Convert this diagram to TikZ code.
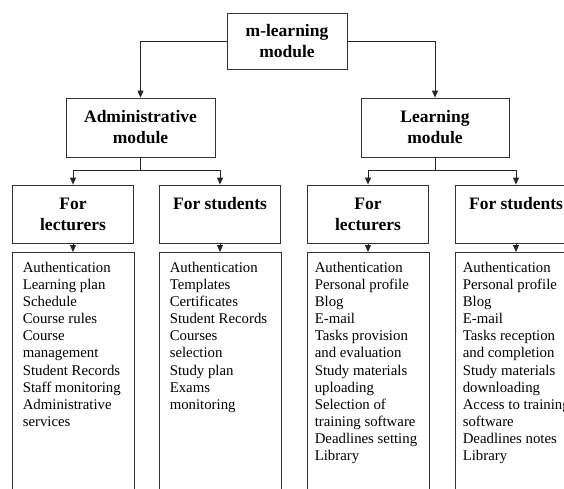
\documentclass[tikz,border=0pt]{standalone}
\usepackage{fontspec}
\setmainfont{Liberation Serif}
\usetikzlibrary{positioning,arrows.meta}

\begin{document}
\begin{tikzpicture}[
    x=1pt, y=-1pt,
    >={Triangle[width=6pt,length=7pt]},
    line/.style={draw=black!85, line width=0.9pt},
    block/.style={draw=black!80, line width=0.8pt, align=center, inner sep=0pt, font=\fontsize{17.5}{21}\selectfont\bfseries},
    listbox/.style={draw=black!80, line width=0.8pt, minimum width=122pt, minimum height=250pt, anchor=north, inner sep=0pt},
    listtext/.style={anchor=north west, align=left, inner sep=0pt, font=\fontsize{14.8}{17.1}\selectfont},
]
\clip (0,0) rectangle (564,488);

% Row 0 (y=41): m-learning module
\node[block, minimum width=120pt, minimum height=56pt] (mlearn) at (287,41) {m-learning\\module};

% Row 1 (y=127): Administrative / Learning
\node[block, minimum width=149pt, minimum height=59pt] (admin) at (140.5,127.5) {Administrative\\module};
\node[block, minimum width=148pt, minimum height=59pt] (learn) at (435,127.5) {Learning\\module};
\draw[line,->] (mlearn.west) -| (admin.north);
\draw[line,->] (mlearn.east) -| (learn.north);

% Column X positions
\def\colA{73}
\def\colB{220}
\def\colC{368}
\def\colD{516}

% Row 2 (y=214): For lecturers / For students
\node[block, minimum width=121pt, minimum height=58pt] (alect) at (\colA,214) {For\\lecturers};
\node[block, minimum width=121pt, minimum height=58pt] (astud) at (\colB,214) {For students\\\mbox{}};
\node[block, minimum width=121pt, minimum height=58pt] (llect) at (\colC,214) {For\\lecturers};
\node[block, minimum width=121pt, minimum height=58pt] (lstud) at (\colD,214) {For students\\\mbox{}};

% Branches from the modules (pointing DOWN)
\draw[line] (admin.south) -- ++(0,13) coordinate (ajoin);
\draw[line,->] (ajoin) -| (alect.north);
\draw[line,->] (ajoin) -| (astud.north);
\draw[line] (learn.south) -- ++(0,13) coordinate (ljoin);
\draw[line,->] (ljoin) -| (llect.north);
\draw[line,->] (ljoin) -| (lstud.north);

% Row 3 (y=252): function lists (boxes run off the page)
\node[listbox] (alectlist) at (\colA,252) {};
\node[listbox] (astudlist) at (\colB,252) {};
\node[listbox] (llectlist) at (\colC,252) {};
\node[listbox] (lstudlist) at (\colD,252) {};
\draw[line,->] (alect.south) -- (alectlist.north);
\draw[line,->] (astud.south) -- (astudlist.north);
\draw[line,->] (llect.south) -- (llectlist.north);
\draw[line,->] (lstud.south) -- (lstudlist.north);

\node[listtext] (alecttext) at ([shift={(11,10)}]alectlist.north west) {Authentication\\Learning plan\\Schedule\\Course rules\\Course\\management\\Student Records\\Staff monitoring\\Administrative\\services};
\node[listtext] (astudtext) at ([shift={(11,10)}]astudlist.north west) {Authentication\\Templates\\Certificates\\Student Records\\Courses\\selection\\Study plan\\Exams\\monitoring};
\node[listtext] (llecttext) at ([shift={(8,10)}]llectlist.north west) {Authentication\\Personal profile\\Blog\\E-mail\\Tasks provision\\and evaluation\\Study materials\\uploading\\Selection of\\training software\\Deadlines setting\\Library};
\node[listtext] (lstudtext) at ([shift={(8,10)}]lstudlist.north west) {Authentication\\Personal profile\\Blog\\E-mail\\Tasks reception\\and completion\\Study materials\\downloading\\Access to training\\software\\Deadlines notes\\Library};

\end{tikzpicture}
\end{document}
